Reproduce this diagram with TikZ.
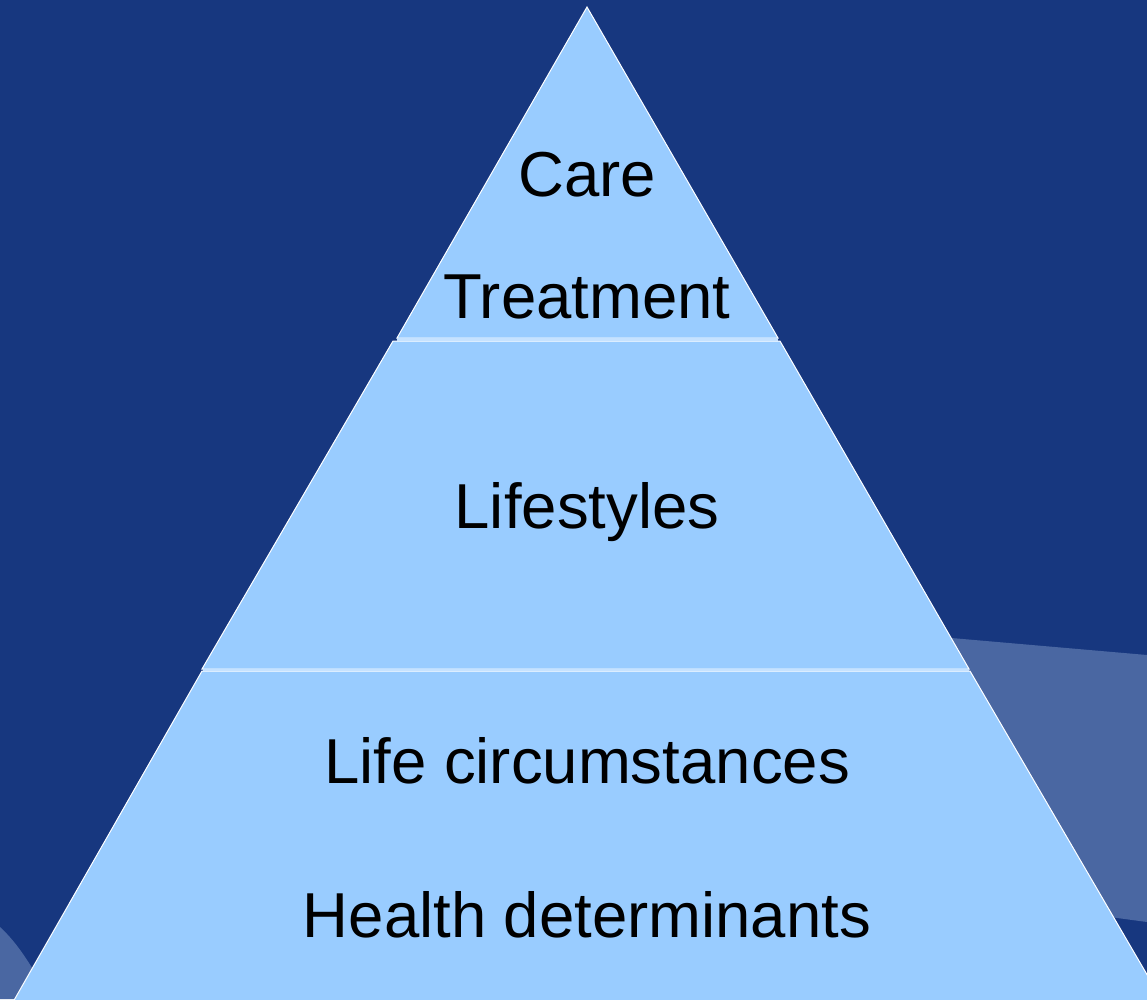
\documentclass[tikz,border=0pt]{standalone}
\usepackage{fontspec}
\setmainfont{Liberation Sans}
\definecolor{bgBlue}{HTML}{17377F}
\definecolor{bandBlue}{HTML}{4A67A2}
\definecolor{levelBlue}{HTML}{99CCFF}
\definecolor{seamBlue}{HTML}{C6E2FF}
\newcommand*{\xMin}{0}
\newcommand*{\xMax}{1147}
\newcommand*{\yMin}{0}
\newcommand*{\yMax}{999}
\newcommand*{\xMid}{587}
\tikzset{
  level/.style={fill=levelBlue,draw=white,line width=1pt,line join=miter},
  seam/.style={draw=seamBlue,line width=2.5pt},
  caption/.style={anchor=base,inner sep=0pt,font=\fontsize{63.5}{70}\selectfont}
}
\begin{document}
\begin{tikzpicture}[x=1pt,y=-1pt]
	\useasboundingbox (\xMin,\yMin) rectangle (\xMax,\yMax);
	% background
	\fill [bgBlue] (\xMin,\yMin) rectangle (\xMax,\yMax);
	\fill [bandBlue] (700,617) -- (940,637) -- (\xMax,655) -- (\xMax,922) -- (1110,917) -- (700,890) -- cycle;
	\fill [bandBlue] (\xMin,927) .. controls (14,940) and (26,956) .. (45,990) -- (45,\yMax) -- (\xMin,\yMax) -- cycle;
	% pyramid levels
	\draw [level] (\xMid,7) -- (778,338) -- (397,338) -- cycle;
	\draw [level] (393,341) -- (780,341) -- (969,669) -- (202,669) -- cycle;
	\draw [level] (202,671) -- (970,671) -- (1163,1002) -- (13,1002) -- cycle;
	\draw [seam] (397,339.5) -- (778,339.5);
	\draw [seam] (203,670) -- (969,670);
	% labels
	\node [caption] (care) at (\xMid,196) {Care};
	\node [caption] (treatment) at (\xMid,318) {Treatment};
	\node [caption] (lifestyles) at (\xMid,528) {Lifestyles};
	\node [caption] (circumstances) at (\xMid,783) {Life circumstances};
	\node [caption] (determinants) at (\xMid,937) {Health determinants};
\end{tikzpicture}
\end{document}
